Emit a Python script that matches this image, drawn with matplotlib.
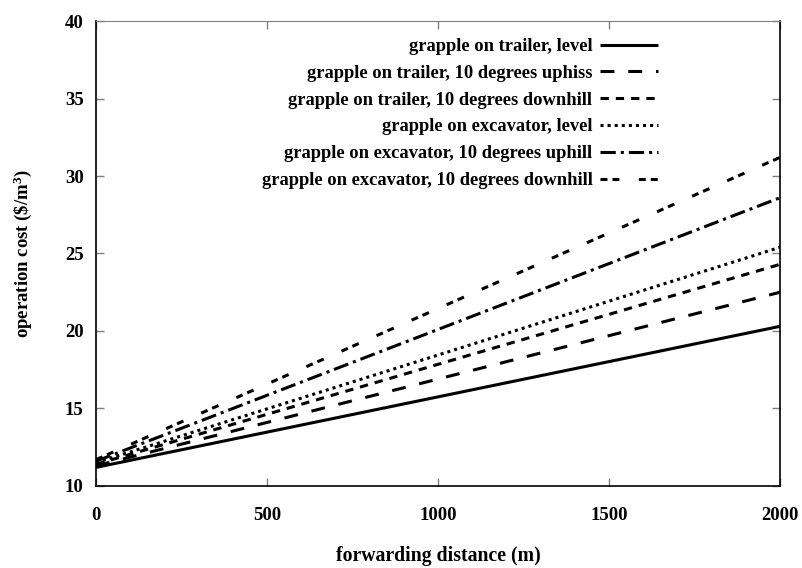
import matplotlib
matplotlib.use("Agg")
import matplotlib.pyplot as plt
import numpy as np

plt.rcParams['font.family'] = ['Liberation Serif', 'DejaVu Serif']
plt.rcParams['font.weight'] = 'bold'
plt.rcParams['axes.labelweight'] = 'bold'
plt.rcParams['mathtext.fontset'] = 'custom'
plt.rcParams['mathtext.rm'] = 'Liberation Serif:bold'
plt.rcParams['mathtext.default'] = 'rm'
plt.rcParams['lines.scale_dashes'] = False

distance = [0, 2000]
labels = [
    "grapple on trailer, level",
    "grapple on trailer, 10 degrees uphiss",
    "grapple on trailer, 10 degrees downhill",
    "grapple on excavator, level",
    "grapple on excavator, 10 degrees uphill",
    "grapple on excavator, 10 degrees downhill",
]
trailer_level = [11.2, 20.3]
trailer_uphill = [11.3, 22.5]
trailer_downhill = [11.4, 24.3]
excavator_level = [11.5, 25.4]
excavator_uphill = [11.6, 28.6]
excavator_downhill = [11.7, 31.2]
series = [trailer_level, trailer_uphill, trailer_downhill,
          excavator_level, excavator_uphill, excavator_downhill]

dashes = [
    None,
    (0, (10, 10)),
    (0, (6, 5)),
    (0, (2.2, 2.9)),
    (0, (11, 3.6, 2.2, 3.6)),
    (0, (5, 3.6, 5, 14)),
]

fig = plt.figure(figsize=(8.03, 5.68), dpi=100)
ax = fig.add_axes([0.1196, 0.1444, 0.9714 - 0.1196, 0.963 - 0.1444])

for y, lab, d in zip(series, labels, dashes):
    ls = '-' if d is None else d
    ax.plot(distance, y, color='black', lw=2.2, linestyle=ls,
            dash_capstyle='butt', solid_capstyle='butt', label=lab)

ax.set_xlim(0, 2000)
ax.set_ylim(10, 40)
ax.set_xticks([0, 500, 1000, 1500, 2000])
ax.set_yticks([10, 15, 20, 25, 30, 35, 40])
ax.tick_params(direction='in', length=6, width=1, color='#808080',
               top=True, right=True, labelsize=13.5)
ax.tick_params(axis='x', pad=24.5)
ax.tick_params(axis='y', pad=9)
for t in ax.get_xticklabels():
    t.set_va('baseline')
for s in ['left', 'bottom', 'right']:
    ax.spines[s].set_color('black')
    ax.spines[s].set_linewidth(1.2)
ax.spines['top'].set_color('#808080')

ax.set_xlabel("forwarding distance (m)", fontsize=14.2, va='baseline')
ax.xaxis.set_label_coords(0.5, (486 - 561) / 465)
ax.set_ylabel("operation cost (\\$/m$^{3}$)", fontsize=13.5, va='center')
ax.yaxis.set_label_coords((23 - 96) / 684, 0.5)

leg = ax.legend(loc='upper right', frameon=False, markerfirst=False,
                fontsize=13.3, handlelength=3.14, handletextpad=0.43,
                labelspacing=0.53, borderaxespad=0, borderpad=0.4,
                bbox_to_anchor=(0.833, 0.9793))

fig.savefig("out.png", dpi=100)
